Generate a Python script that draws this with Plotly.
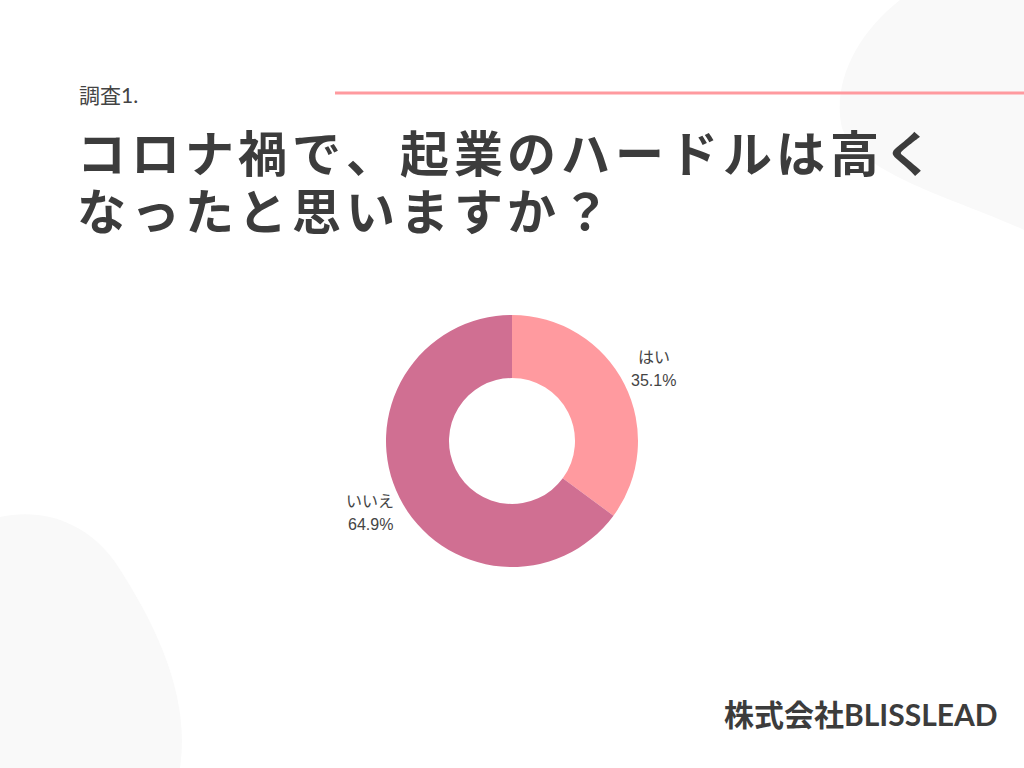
import math
import plotly.graph_objects as go

labels = ["はい", "いいえ"]
values = [35.1, 64.9]
colors = ["#FF9A9F", "#D06F92"]

subtitle = "調査1."
title_lines = ["コロナ禍で、起業のハードルは高く", "なったと思いますか？"]
footer = "株式会社BLISSLEAD"

W, H = 1024, 768
cx, cy, R = 512, 441, 126

def px(x):
    return x / W

def py(y):
    return 1 - y / H

fig = go.Figure()
fig.add_trace(go.Pie(
    labels=labels, values=values, hole=0.5, sort=False, direction="clockwise",
    marker=dict(colors=colors, line=dict(width=0)),
    textposition="none", showlegend=False, hoverinfo="none",
    domain=dict(x=[px(cx - R), px(cx + R)], y=[py(cy + R), py(cy - R)]),
))

blob_color = "#F9F9F9"
shapes = [
    dict(type="path", xref="paper", yref="paper", layer="below", line=dict(width=0), fillcolor=blob_color,
         path="M %f %f C %f %f, %f %f, %f %f C %f %f, %f %f, %f %f L 1 1 Z" % (
             px(900), 1, px(855), py(35), px(832), py(85), px(842), py(128),
             px(860), py(175), px(960), py(200), 1, py(230))),
    dict(type="path", xref="paper", yref="paper", layer="below", line=dict(width=0), fillcolor=blob_color,
         path="M 0 %f C %f %f, %f %f, %f %f C %f %f, %f %f, %f 0 L 0 0 Z" % (
             py(517), px(40), py(508), px(85), py(520), px(115), py(562),
             px(160), py(630), px(190), py(700), px(180))),
    dict(type="line", xref="paper", yref="paper", x0=px(335), x1=1, y0=py(93), y1=py(93),
         line=dict(color="#FF9A9F", width=3)),
]

ann = []
ann.append(dict(text=subtitle, x=px(77), y=py(95), xanchor="left", yanchor="middle",
                font=dict(family="Lato, Noto Sans CJK JP", size=21, color="#444444")))

# title, one character per cell (the reference uses wide letter spacing)
pitch = 53.8
for li, (line, yc) in enumerate(zip(title_lines, [150, 208])):
    for i, ch in enumerate(line):
        ann.append(dict(text=ch, x=px(101.5 + pitch * i), y=py(yc),
                        xanchor="center", yanchor="middle", height=56,
                        font=dict(family="Noto Sans CJK JP", size=49, color="#3C3C3C", weight=700)))

ann.append(dict(text="<b>" + footer + "</b>", x=px(1000), y=py(714), xanchor="right", yanchor="middle",
                font=dict(family="Lato, Noto Sans CJK JP", size=30, color="#3C3C3C")))

# slice labels placed outside the ring at each slice's mid angle
total = sum(values)
cum = 0.0
r_lab = R + 33
lab_font = dict(family="Arial, Liberation Sans, Noto Sans CJK JP", size=16, color="#444444")
for lab, v in zip(labels, values):
    mid = (cum + v / 2) / total * 2 * math.pi
    cum += v
    lx = cx + r_lab * math.sin(mid)
    ly = cy - r_lab * math.cos(mid)
    ann.append(dict(text=lab, x=px(lx), y=py(ly - 11.5), xanchor="center", yanchor="middle", font=lab_font))
    ann.append(dict(text="%.1f%%" % (v / total * 100), x=px(lx), y=py(ly + 11.5),
                    xanchor="center", yanchor="middle", font=lab_font))

for a in ann:
    a.update(xref="paper", yref="paper", showarrow=False)

fig.update_layout(width=W, height=H, margin=dict(l=0, r=0, t=0, b=0),
                  paper_bgcolor="white", plot_bgcolor="white",
                  shapes=shapes, annotations=ann)
fig.write_html("out.html", config={"displayModeBar": False},
               post_script="document.body.style.margin='0';")
